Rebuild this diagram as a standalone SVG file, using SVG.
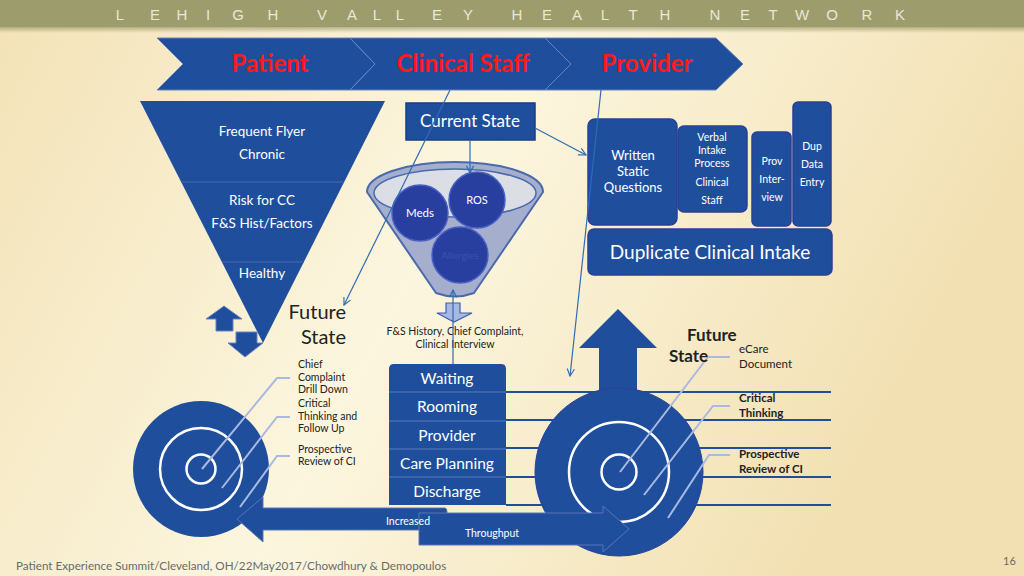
<svg xmlns="http://www.w3.org/2000/svg" width="1024" height="576" viewBox="0 0 1024 576">
<defs>
<linearGradient id="bg" x1="0" y1="0" x2="1" y2="0.3">
<stop offset="0" stop-color="#f3e2b6"/>
<stop offset="0.5" stop-color="#fcf6df"/>
<stop offset="1" stop-color="#f2e0b2"/>
</linearGradient>
<linearGradient id="hdrShadow" x1="0" y1="0" x2="0" y2="1">
<stop offset="0" stop-color="#8a8a5c" stop-opacity="0.6"/>
<stop offset="1" stop-color="#8a8a5c" stop-opacity="0"/>
</linearGradient>
<marker id="arr" viewBox="0 0 10 10" refX="9" refY="5" markerWidth="9" markerHeight="9" orient="auto" markerUnits="userSpaceOnUse">
<path d="M1,1 L9,5 L1,9" fill="none" stroke="#2f6cb5" stroke-width="1.3"/>
</marker>
<style>
.blue{fill:#1f4f9c;stroke:#6a82c0;stroke-width:1}
.box{fill:#1f4f9c;stroke:#2b3f94;stroke-width:1.5}
.ball{fill:#283fa0;stroke:#4a5fc2;stroke-width:1.5}
.t{font-family:Lato,"Liberation Sans",sans-serif;fill:#ffffff;text-anchor:middle}
.d{font-family:Lato,"Liberation Sans",sans-serif;fill:#222222}
.red{font-family:Lato,"Liberation Sans",sans-serif;fill:#ff1a1a;font-weight:bold;font-size:24px;text-anchor:middle}
.conn{fill:none;stroke:#2f6cb5;stroke-width:1.2;marker-end:url(#arr)}
.call{fill:none;stroke:#a9b9e2;stroke-width:2}
.ring{fill:none;stroke:#ffffff;stroke-width:2.5}
.hl{stroke:#1f4f9c;stroke-width:2}
</style>
</defs>
<rect x="0" y="0" width="1024" height="576" fill="url(#bg)"/>
<g id="header">
<rect x="0" y="27" width="1024" height="6" fill="url(#hdrShadow)"/>
<rect x="0" y="0" width="1024" height="27" fill="#9c9c6c"/>
<text x="120 155 182 208 238 273 322 352 377 400 437 468 517 547 577 605 633 665 715 745 773 802 832 867 900" y="20" text-anchor="middle" font-family="'Liberation Sans',sans-serif" font-size="15" fill="#e8e8d4">LEHIGHVALLEYHEALTHNETWORK</text>
</g>
<g id="chevrons">
<path class="blue" d="M157,38 L350,38 L375,64 L350,90 L157,90 L183,64 Z"/>
<path class="blue" d="M350,38 L545,38 L571,64 L545,90 L350,90 L375,64 Z"/>
<path class="blue" d="M545,38 L716,38 L743,64 L716,90 L545,90 L571,64 Z"/>
<text class="red" x="270" y="72">Patient</text>
<text class="red" x="463" y="72">Clinical Staff</text>
<text class="red" x="647" y="72">Provider</text>
</g>
<g id="triangle">
<path fill="#1f4f9c" d="M140,101 L385,101 L263,343 Z"/>
<line x1="181" y1="182" x2="344" y2="182" stroke="#3f5fa8" stroke-width="1.5"/>
<line x1="222" y1="262" x2="304" y2="262" stroke="#3f5fa8" stroke-width="1.5"/>
<text class="t" x="262" y="136" font-size="13.5">Frequent Flyer</text>
<text class="t" x="262" y="159" font-size="13.5">Chronic</text>
<text class="t" x="262" y="205" font-size="13.5">Risk for CC</text>
<text class="t" x="262" y="228" font-size="13.5">F&amp;S Hist/Factors</text>
<text class="t" x="262" y="278" font-size="13.5">Healthy</text>
</g>
<g id="updown">
<path class="blue" d="M224,306 L242,319 L233,319 L233,331 L216,331 L216,319 L206,319 Z"/>
<path class="blue" d="M236,332 L257,332 L257,343 L263,343 L245,357 L228,343 L236,343 Z"/>
</g>
<g id="future-left">
<text class="d" x="346" y="319" font-size="20" text-anchor="end" fill="#111">Future</text>
<text class="d" x="346" y="344" font-size="20" text-anchor="end" fill="#111">State</text>
</g>
<g id="current-state">
<rect x="406" y="103" width="129" height="37" fill="#1f4f9c" stroke="#153f85" stroke-width="1.5"/>
<text class="t" x="470" y="127" font-size="17">Current State</text>
</g>
<g id="funnel">
<path d="M367,192 A88,30 0 0 1 543,192 L474,293 Q455,300 436,293 Z" fill="#a6aecd" stroke="#4a6aad" stroke-width="2"/>
<ellipse cx="455" cy="193" rx="81" ry="24" fill="#dcdee5" stroke="#4a6aad" stroke-width="1.5"/>
<circle class="ball" cx="420" cy="213" r="28"/>
<circle class="ball" cx="477" cy="200" r="28"/>
<circle class="ball" cx="460" cy="255" r="28"/>
<text class="t" x="420" y="217" font-size="11.5">Meds</text>
<text class="t" x="477" y="204" font-size="11">ROS</text>
<text class="t" x="460" y="259" font-size="10" style="fill:#3a52b4">Allergies</text>
<path d="M446,303 L460,303 L460,313 L472,313 L454,322 L437,313 L446,313 Z" fill="#a9b8e2" stroke="#3a5fb0" stroke-width="1.2"/>
<text class="d" x="455" y="335" font-size="10.5" text-anchor="middle">F&amp;S History, Chief Complaint,</text>
<text class="d" x="455" y="348" font-size="10.5" text-anchor="middle">Clinical Interview</text>
</g>
<g id="intake">
<rect class="box" x="588" y="119" width="89" height="106" rx="7"/>
<text class="t" x="633" y="160" font-size="13">Written</text>
<text class="t" x="633" y="176" font-size="13">Static</text>
<text class="t" x="633" y="192" font-size="13">Questions</text>
<rect class="box" x="678" y="126" width="69" height="86" rx="6"/>
<text class="t" x="712" y="141" font-size="10.5">Verbal</text>
<text class="t" x="712" y="154" font-size="10.5">Intake</text>
<text class="t" x="712" y="167" font-size="10.5">Process</text>
<text class="t" x="712" y="186" font-size="10.5">Clinical</text>
<text class="t" x="712" y="204" font-size="10.5">Staff</text>
<rect class="box" x="752" y="132" width="39" height="94" rx="5"/>
<text class="t" x="772" y="165" font-size="10.5">Prov</text>
<text class="t" x="772" y="183" font-size="10.5">Inter-</text>
<text class="t" x="772" y="201" font-size="10.5">view</text>
<rect class="box" x="793" y="102" width="38" height="124" rx="5"/>
<text class="t" x="812" y="150" font-size="10.5">Dup</text>
<text class="t" x="812" y="168" font-size="10.5">Data</text>
<text class="t" x="812" y="186" font-size="10.5">Entry</text>
<rect class="box" x="588" y="229" width="244" height="46" rx="6"/>
<text class="t" x="710" y="259" font-size="19">Duplicate Clinical Intake</text>
</g>
<g id="hlines">
<line class="hl" x1="506" y1="392" x2="831" y2="392"/>
<line class="hl" x1="506" y1="420" x2="831" y2="420"/>
<line class="hl" x1="506" y1="448" x2="831" y2="448"/>
<line class="hl" x1="506" y1="477" x2="831" y2="477"/>
<line class="hl" x1="506" y1="505" x2="831" y2="505"/>
</g>
<g id="connectors">
<line class="conn" x1="450" y1="90" x2="344" y2="305"/>
<line class="conn" x1="601" y1="90" x2="570" y2="376"/>
<line class="conn" x1="535" y1="128" x2="586" y2="155"/>
<line class="conn" x1="470" y1="140" x2="470" y2="173"/>
<line class="conn" x1="453" y1="365" x2="453" y2="290"/>
</g>
<g id="left-target">
<circle cx="201" cy="469" r="68" fill="#1f4f9c"/>
<circle class="ring" cx="201" cy="469" r="41"/>
<circle class="ring" cx="201" cy="469" r="14.5"/>
</g>
<g id="increased">
<path d="M445,508 Q447,508 447,512 L447,530 L263,530 L263,542 L237,519 L263,497 L263,508 Z" fill="#1f4f9c" stroke="#5a74ba" stroke-width="1"/>
</g>
<g id="left-callouts">
<polyline class="call" points="202,469 277,378 290,378"/>
<polyline class="call" points="222,488 277,417 290,417"/>
<polyline class="call" points="240,507 277,456 290,456"/>
<text class="d" x="298" y="368" font-size="10.5">Chief</text>
<text class="d" x="298" y="381" font-size="10.5">Complaint</text>
<text class="d" x="298" y="393" font-size="10.5">Drill Down</text>
<text class="d" x="298" y="407" font-size="10.5">Critical</text>
<text class="d" x="298" y="420" font-size="10.5">Thinking and</text>
<text class="d" x="298" y="432" font-size="10.5">Follow Up</text>
<text class="d" x="298" y="453" font-size="10.5">Prospective</text>
<text class="d" x="298" y="465" font-size="10.5">Review of CI</text>
</g>
<g id="stack">
<path d="M389,369 Q389,364 394,364 L501,364 Q506,364 506,369 L506,505 L389,505 Z" fill="#1f4f9c"/>
<g stroke="#5a78c0" stroke-width="1">
<line x1="389" y1="392" x2="506" y2="392"/>
<line x1="389" y1="421" x2="506" y2="421"/>
<line x1="389" y1="449" x2="506" y2="449"/>
<line x1="389" y1="477" x2="506" y2="477"/>
</g>
<text class="t" x="447" y="384" font-size="15.5">Waiting</text>
<text class="t" x="447" y="412" font-size="15.5">Rooming</text>
<text class="t" x="447" y="441" font-size="15.5">Provider</text>
<text class="t" x="447" y="469" font-size="15.5">Care Planning</text>
<text class="t" x="447" y="497" font-size="15.5">Discharge</text>
</g>
<g id="right-target">
<path d="M618,309 L657,348 L637,348 L637,395 L599,395 L599,348 L579,348 Z" fill="#1f4f9c"/>
<circle cx="619" cy="472" r="84" fill="#1f4f9c" stroke="#2d3f9a" stroke-width="1"/>
<circle class="ring" cx="619" cy="472" r="50"/>
<circle class="ring" cx="619" cy="472" r="17.5"/>
</g>
<g id="throughput">
<path d="M419,513 L603,513 L603,506 L629,529 L603,552 L603,545 L419,545 Z" fill="#1f4f9c" stroke="#5a74ba" stroke-width="1"/>
<text class="t" x="408" y="525" font-size="10.5">Increased</text>
<text class="t" x="492" y="537" font-size="10.5">Throughput</text>
</g>
<g id="right-callouts">
<polyline class="call" points="620,472 708,357 730,357"/>
<polyline class="call" points="644,495 713,406 730,406"/>
<polyline class="call" points="668,518 709,455 730,455"/>
<text class="d" x="687" y="341" font-size="17" font-weight="bold" fill="#111">Future</text>
<text class="d" x="669" y="362" font-size="17" font-weight="bold" fill="#111">State</text>
<text class="d" x="739" y="353" font-size="11.5">eCare</text>
<text class="d" x="739" y="368" font-size="11.5">Document</text>
<text class="d" x="739" y="402" font-size="11.5" font-weight="bold">Critical</text>
<text class="d" x="739" y="417" font-size="11.5" font-weight="bold">Thinking</text>
<text class="d" x="739" y="458" font-size="11.5" font-weight="bold">Prospective</text>
<text class="d" x="739" y="473" font-size="11.5" font-weight="bold">Review of CI</text>
</g>
<g id="footer">
<text class="d" x="16" y="570" font-size="11.7" style="fill:#6a6a6a">Patient Experience Summit/Cleveland, OH/22May2017/Chowdhury &amp; Demopoulos</text>
<text class="d" x="1003" y="565" font-size="11" style="fill:#6a6a6a">16</text>
</g>
</svg>
